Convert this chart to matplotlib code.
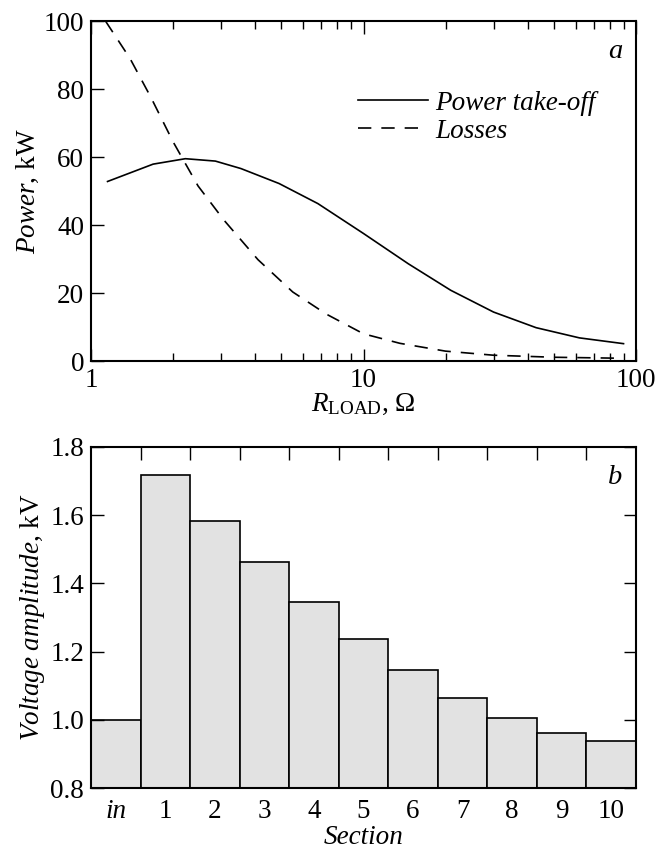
import matplotlib
matplotlib.use("Agg")
import matplotlib.pyplot as plt
from matplotlib.ticker import LogLocator, NullFormatter, FixedLocator

plt.rcParams['font.family'] = ['Liberation Serif', 'DejaVu Serif']
plt.rcParams['mathtext.fontset'] = 'custom'
plt.rcParams['mathtext.rm'] = 'Liberation Serif'
plt.rcParams['mathtext.it'] = 'Liberation Serif:italic'

# ---- panel a data ----
r_power = [1.15, 1.69, 2.22, 2.86, 3.55, 4.9, 6.8, 10, 14.6, 20.9, 30, 43, 62, 90]
p_power = [52.8, 57.9, 59.5, 58.8, 56.6, 52.2, 46.3, 37.5, 28.6, 20.8, 14.4, 9.8, 6.8, 5.1]
r_loss = [1.13, 1.39, 1.66, 2.0, 2.47, 3.07, 4.1, 5.5, 7.3, 10, 13.6, 20, 30, 50, 90]
p_loss = [100, 89, 77.5, 64.5, 51.5, 41.5, 29.8, 20.3, 13.8, 8.0, 5.2, 2.9, 1.7, 1.1, 0.8]

# ---- panel b data ----
sections = ['in', '1', '2', '3', '4', '5', '6', '7', '8', '9', '10']
voltage = [1.0, 1.717, 1.582, 1.462, 1.346, 1.238, 1.145, 1.064, 1.004, 0.961, 0.939]

W, H = 672, 852
fig = plt.figure(figsize=(W / 100, H / 100), dpi=100)

def rect(x0, y0, x1, y1):
    return [x0 / W, 1 - y1 / H, (x1 - x0) / W, (y1 - y0) / H]

FS = 19.5
ax1 = fig.add_axes(rect(91, 21, 636, 361))
ax1.plot(r_power, p_power, color='black', lw=1.2, label='Power take-off')
ax1.plot(r_loss, p_loss, color='black', lw=1.2, dashes=(8, 6), label='Losses')
ax1.set_xscale('log')
ax1.set_xlim(1, 100)
ax1.set_ylim(0, 100)
ax1.set_yticks([0, 20, 40, 60, 80, 100])
ax1.xaxis.set_major_locator(FixedLocator([1, 10, 100]))
ax1.set_xticklabels(['1', '10', '100'])
ax1.xaxis.set_minor_locator(LogLocator(base=10, subs=range(2, 10)))
ax1.xaxis.set_minor_formatter(NullFormatter())
ax1.tick_params(axis='x', which='both', direction='in', top=True, bottom=True, labelsize=FS, pad=5)
ax1.tick_params(axis='x', which='major', length=9, width=1)
ax1.tick_params(axis='x', which='minor', length=6, width=1)
ax1.tick_params(axis='y', direction='in', left=True, right=False, length=9, width=1, labelsize=FS, pad=5)
ax1.set_xlabel(r'$R_{\rm LOAD}$, Ω', fontsize=FS, labelpad=-1)
ax1.set_ylabel(r'$\mathit{Power}$, kW', fontsize=FS, labelpad=2)
ax1.text(0.975, 0.91, 'a', transform=ax1.transAxes, style='italic', fontsize=FS + 1,
         ha='right', va='center')
leg = ax1.legend(loc='upper left', bbox_to_anchor=(0.49, 0.795), frameon=False,
                 handlelength=2.6, handletextpad=0.25, borderpad=0, borderaxespad=0,
                 labelspacing=0.12, prop={'style': 'italic', 'size': FS})
for sp in ax1.spines.values():
    sp.set_linewidth(1.5)

ax2 = fig.add_axes(rect(91, 447, 636, 788))
xpos = list(range(len(sections)))
ax2.bar(xpos, [v - 0.8 for v in voltage], bottom=0.8, width=1.0, color='#e2e2e2',
        edgecolor='black', linewidth=1.2)
ax2.set_xlim(-0.5, len(sections) - 0.5)
ax2.set_ylim(0.8, 1.8)
ax2.set_yticks([0.8, 1.0, 1.2, 1.4, 1.6, 1.8])
ax2.set_yticklabels(['0.8', '1.0', '1.2', '1.4', '1.6', '1.8'])
ax2.set_xticks(xpos)
ax2.set_xticklabels(sections)
ax2.get_xticklabels()[0].set_style('italic')
ax2.tick_params(axis='x', which='major', length=0, labelsize=FS, pad=8)
ax2.set_xticks([i + 0.5 for i in xpos[:-1]], minor=True)
ax2.tick_params(axis='x', which='minor', direction='in', top=True, bottom=False, length=9, width=1)
ax2.tick_params(axis='y', direction='in', left=True, right=True, length=9, width=1, labelsize=FS, pad=5)
ax2.set_xlabel('Section', fontsize=FS, style='italic', labelpad=1)
ax2.set_ylabel(r'$\mathit{Voltage\ amplitude}$, kV', fontsize=FS, labelpad=2)
ax2.text(0.975, 0.91, 'b', transform=ax2.transAxes, style='italic', fontsize=FS + 1,
         ha='right', va='center')
for sp in ax2.spines.values():
    sp.set_linewidth(1.5)

fig.savefig('out.png', dpi=100)
